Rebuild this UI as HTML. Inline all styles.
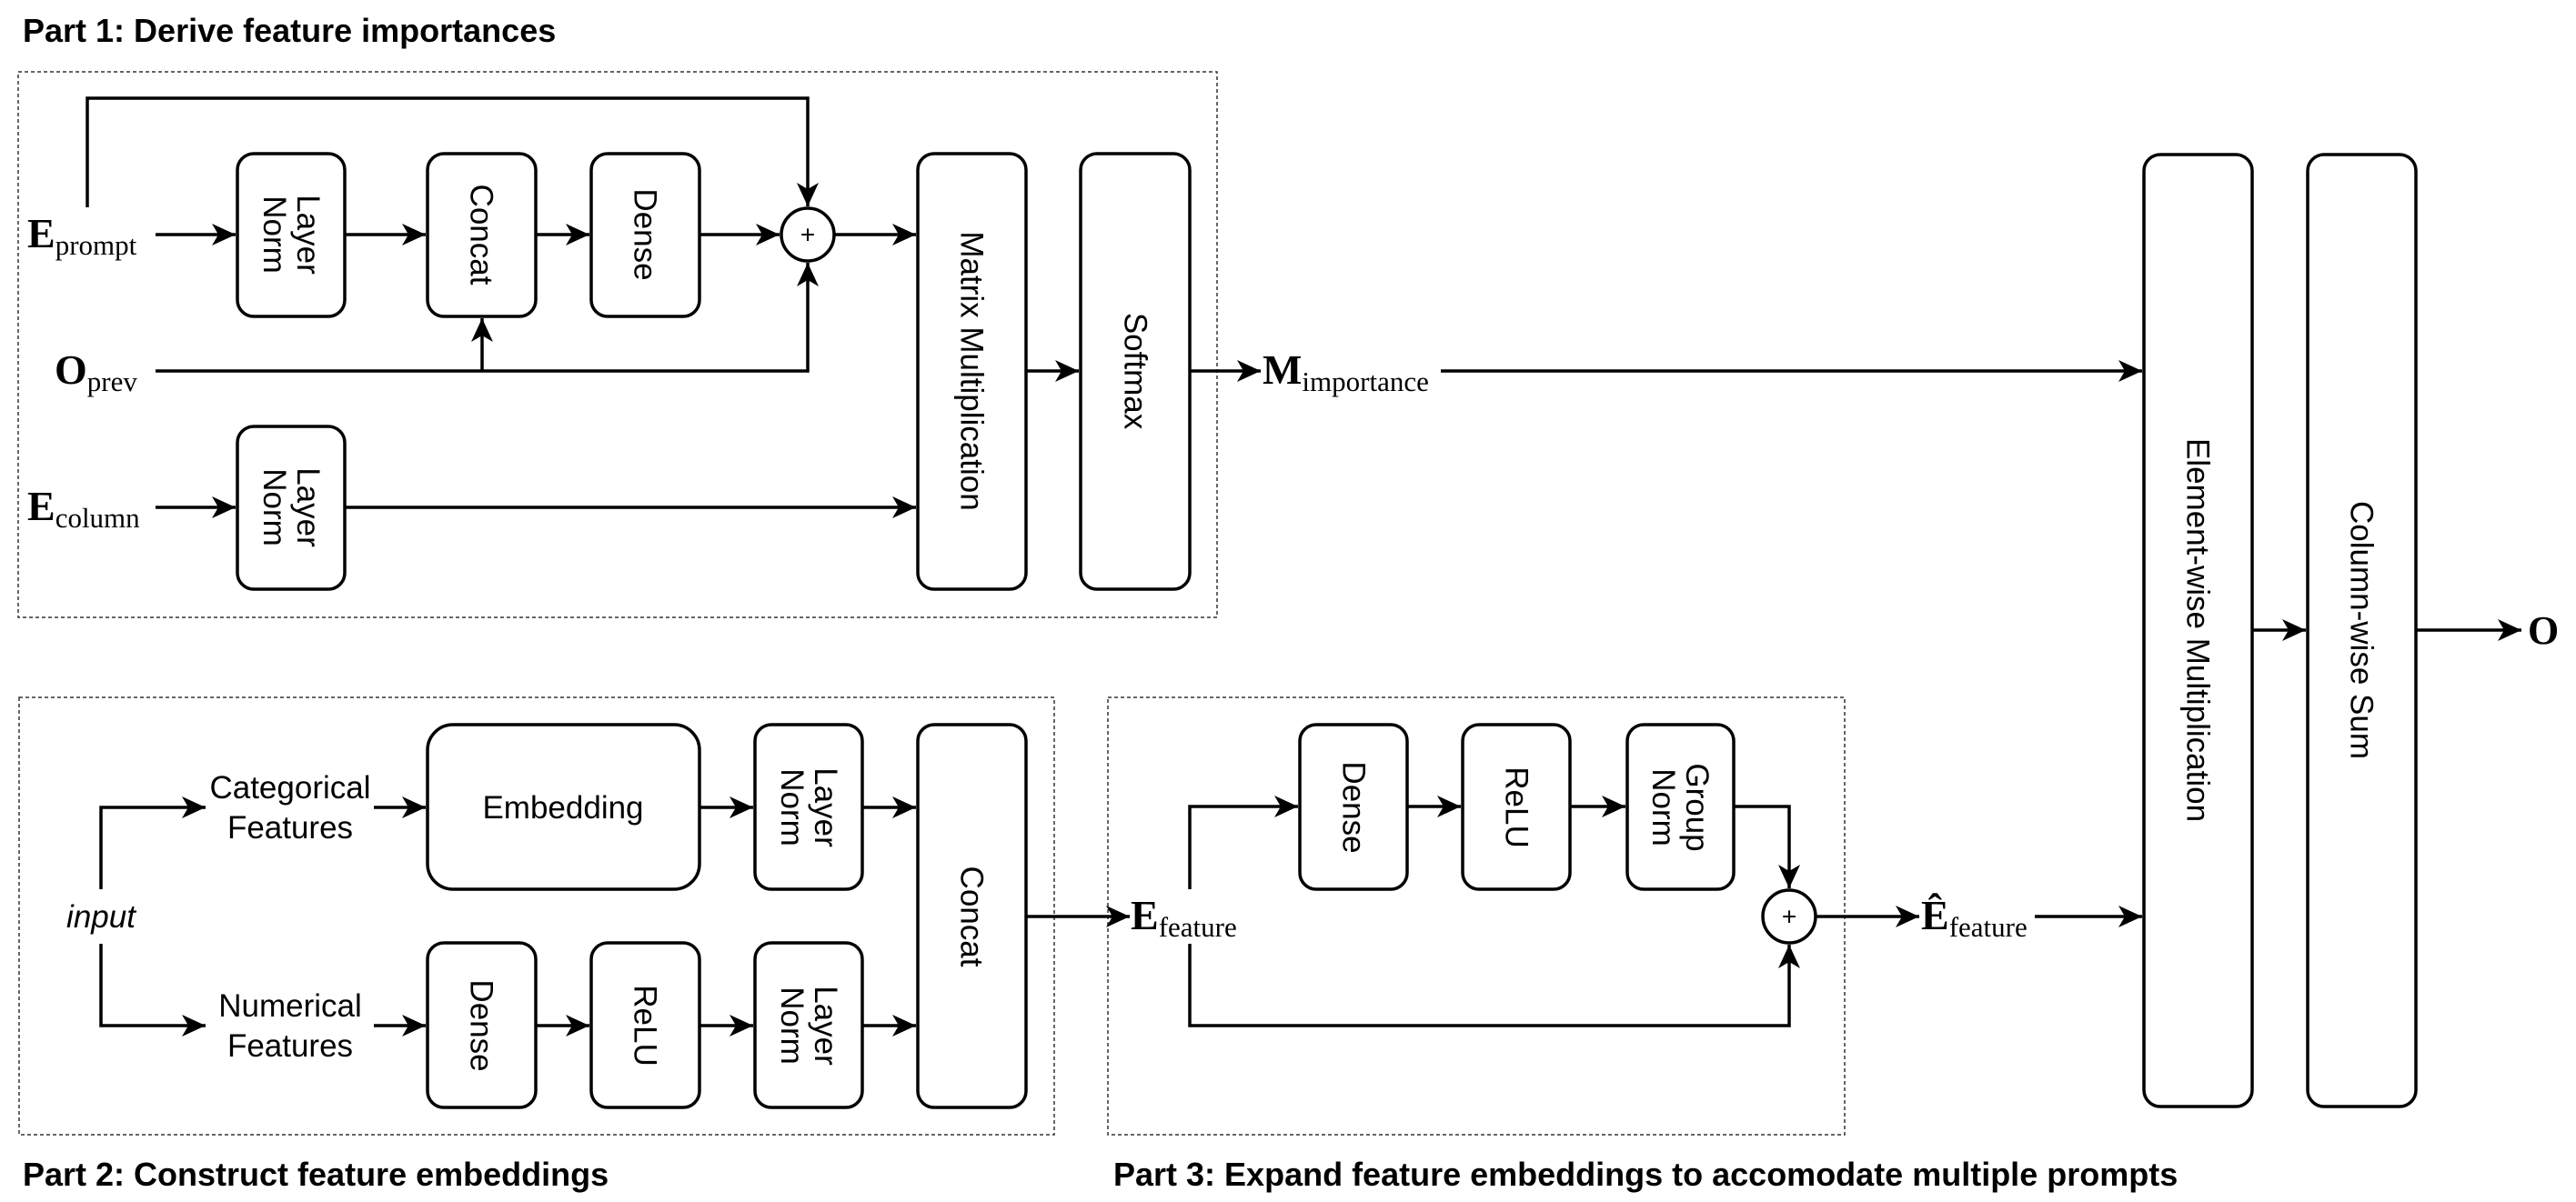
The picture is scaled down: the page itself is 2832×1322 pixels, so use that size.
<!DOCTYPE html>
<html><head><meta charset="utf-8"><style>
html,body{margin:0;padding:0;background:#fff}
svg{display:block}
.b{fill:#fff;stroke:#000;stroke-width:3.5}
.l{fill:none;stroke:#000;stroke-width:3.5}
.d{fill:none;stroke:#333;stroke-width:1.5;stroke-dasharray:4 3}
.t{font-family:"Liberation Sans",sans-serif;font-size:35px;fill:#000}
.h{font-family:"Liberation Sans",sans-serif;font-size:36px;font-weight:bold;fill:#000}
.m{font-family:"Liberation Serif",serif;fill:#000}
</style></head><body>
<svg width="2832" height="1322" viewBox="0 0 2832 1322" xmlns="http://www.w3.org/2000/svg">
<defs><marker id="a" markerUnits="userSpaceOnUse" markerWidth="28" markerHeight="26" refX="26" refY="12" orient="auto"><path d="M0,0 L26,12 L0,24 L7,12 Z" fill="#000"/></marker></defs>

<text class="h" x="25" y="46">Part 1: Derive feature importances</text>
<text class="h" x="25" y="1304">Part 2: Construct feature embeddings</text>
<text class="h" x="1224" y="1304">Part 3: Expand feature embeddings to accomodate multiple prompts</text>

<rect class="d" x="20" y="79" width="1318" height="600"/>
<rect class="d" x="21" y="767" width="1138" height="481"/>
<rect class="d" x="1218" y="767" width="810" height="481"/>

<!-- Part 1 boxes -->
<rect class="b" x="261" y="169" width="118" height="179" rx="18"/>
<rect class="b" x="470" y="169" width="119" height="179" rx="18"/>
<rect class="b" x="650" y="169" width="119" height="179" rx="18"/>
<rect class="b" x="261" y="469" width="118" height="179" rx="18"/>
<rect class="b" x="1009" y="169" width="119" height="479" rx="18"/>
<rect class="b" x="1188" y="169" width="120" height="479" rx="18"/>
<circle class="b" cx="888" cy="258" r="29"/>
<text class="t" x="888" y="258" text-anchor="middle" dominant-baseline="central" style="font-size:28px">+</text>

<text class="t" transform="translate(320,258) rotate(90)" text-anchor="middle"><tspan x="0" y="-7">Layer</tspan><tspan x="0" y="30">Norm</tspan></text>
<text class="t" transform="translate(320,558) rotate(90)" text-anchor="middle"><tspan x="0" y="-7">Layer</tspan><tspan x="0" y="30">Norm</tspan></text>
<text class="t" transform="translate(529,258) rotate(90)" text-anchor="middle" dominant-baseline="central">Concat</text>
<text class="t" transform="translate(709,258) rotate(90)" text-anchor="middle" dominant-baseline="central">Dense</text>
<text class="t" transform="translate(1068,408) rotate(90)" text-anchor="middle" dominant-baseline="central">Matrix Multiplication</text>
<text class="t" transform="translate(1248,408) rotate(90)" text-anchor="middle" dominant-baseline="central">Softmax</text>

<!-- Part 1 labels -->
<text class="m" x="30" y="272"><tspan font-size="46" font-weight="bold">E</tspan><tspan font-size="31" dy="8">prompt</tspan></text>
<text class="m" x="60" y="422"><tspan font-size="46" font-weight="bold">O</tspan><tspan font-size="31" dy="8">prev</tspan></text>
<text class="m" x="30" y="572"><tspan font-size="46" font-weight="bold">E</tspan><tspan font-size="31" dy="8">column</tspan></text>
<text class="m" x="1388" y="422"><tspan font-size="46" font-weight="bold">M</tspan><tspan font-size="31" dy="8">importance</tspan></text>

<!-- Part 1 connectors -->
<line class="l" x1="171" y1="258" x2="259" y2="258" marker-end="url(#a)"/>
<line class="l" x1="379" y1="258" x2="468" y2="258" marker-end="url(#a)"/>
<line class="l" x1="589" y1="258" x2="648" y2="258" marker-end="url(#a)"/>
<line class="l" x1="769" y1="258" x2="857" y2="258" marker-end="url(#a)"/>
<line class="l" x1="917" y1="258" x2="1007" y2="258" marker-end="url(#a)"/>
<polyline class="l" points="96,228 96,108 888,108 888,227" marker-end="url(#a)"/>
<polyline class="l" points="171,408 888,408 888,289" marker-end="url(#a)"/>
<line class="l" x1="530" y1="408" x2="530" y2="350" marker-end="url(#a)"/>
<line class="l" x1="171" y1="558" x2="259" y2="558" marker-end="url(#a)"/>
<line class="l" x1="379" y1="558" x2="1007" y2="558" marker-end="url(#a)"/>
<line class="l" x1="1128" y1="408" x2="1186" y2="408" marker-end="url(#a)"/>
<line class="l" x1="1308" y1="408" x2="1386" y2="408" marker-end="url(#a)"/>
<line class="l" x1="1584" y1="408" x2="2355" y2="408" marker-end="url(#a)"/>

<!-- Right boxes -->
<rect class="b" x="2357" y="170" width="119" height="1047" rx="18"/>
<rect class="b" x="2537" y="170" width="119" height="1047" rx="18"/>
<text class="t" transform="translate(2416,693) rotate(90)" text-anchor="middle" dominant-baseline="central">Element-wise Multiplication</text>
<text class="t" transform="translate(2596,693) rotate(90)" text-anchor="middle" dominant-baseline="central">Column-wise Sum</text>
<line class="l" x1="2476" y1="693" x2="2535" y2="693" marker-end="url(#a)"/>
<line class="l" x1="2656" y1="693" x2="2772" y2="693" marker-end="url(#a)"/>
<text class="m" x="2779" y="708" font-size="44" font-weight="bold">O</text>

<!-- Part 2 -->
<rect class="b" x="470" y="797" width="299" height="181" rx="28"/>
<rect class="b" x="830" y="797" width="118" height="181" rx="18"/>
<rect class="b" x="1009" y="797" width="119" height="421" rx="18"/>
<rect class="b" x="470" y="1037" width="119" height="181" rx="18"/>
<rect class="b" x="650" y="1037" width="119" height="181" rx="18"/>
<rect class="b" x="830" y="1037" width="118" height="181" rx="18"/>
<text class="t" x="619" y="900" text-anchor="middle">Embedding</text>
<text class="t" transform="translate(889,888) rotate(90)" text-anchor="middle"><tspan x="0" y="-7">Layer</tspan><tspan x="0" y="30">Norm</tspan></text>
<text class="t" transform="translate(889,1128) rotate(90)" text-anchor="middle"><tspan x="0" y="-7">Layer</tspan><tspan x="0" y="30">Norm</tspan></text>
<text class="t" transform="translate(1068,1008) rotate(90)" text-anchor="middle" dominant-baseline="central">Concat</text>
<text class="t" transform="translate(529,1128) rotate(90)" text-anchor="middle" dominant-baseline="central">Dense</text>
<text class="t" transform="translate(709,1128) rotate(90)" text-anchor="middle" dominant-baseline="central">ReLU</text>
<text class="t" x="319" y="878" text-anchor="middle">Categorical</text>
<text class="t" x="319" y="922" text-anchor="middle">Features</text>
<text class="t" x="319" y="1118" text-anchor="middle">Numerical</text>
<text class="t" x="319" y="1162" text-anchor="middle">Features</text>
<text class="t" x="111" y="1020" text-anchor="middle" font-style="italic">input</text>
<polyline class="l" points="111,978 111,888 226,888" marker-end="url(#a)"/>
<polyline class="l" points="111,1038 111,1128 226,1128" marker-end="url(#a)"/>
<line class="l" x1="411" y1="888" x2="468" y2="888" marker-end="url(#a)"/>
<line class="l" x1="769" y1="888" x2="828" y2="888" marker-end="url(#a)"/>
<line class="l" x1="948" y1="888" x2="1007" y2="888" marker-end="url(#a)"/>
<line class="l" x1="411" y1="1128" x2="468" y2="1128" marker-end="url(#a)"/>
<line class="l" x1="589" y1="1128" x2="648" y2="1128" marker-end="url(#a)"/>
<line class="l" x1="769" y1="1128" x2="828" y2="1128" marker-end="url(#a)"/>
<line class="l" x1="948" y1="1128" x2="1007" y2="1128" marker-end="url(#a)"/>
<line class="l" x1="1128" y1="1008" x2="1242" y2="1008" marker-end="url(#a)"/>

<!-- Part 3 -->
<text class="m" x="1243" y="1022"><tspan font-size="46" font-weight="bold">E</tspan><tspan font-size="31" dy="8">feature</tspan></text>
<rect class="b" x="1429" y="797" width="118" height="181" rx="18"/>
<rect class="b" x="1608" y="797" width="118" height="181" rx="18"/>
<rect class="b" x="1789" y="797" width="117" height="181" rx="18"/>
<text class="t" transform="translate(1488,888) rotate(90)" text-anchor="middle" dominant-baseline="central">Dense</text>
<text class="t" transform="translate(1667,888) rotate(90)" text-anchor="middle" dominant-baseline="central">ReLU</text>
<text class="t" transform="translate(1847,888) rotate(90)" text-anchor="middle"><tspan x="0" y="-7">Group</tspan><tspan x="0" y="30">Norm</tspan></text>
<circle class="b" cx="1967" cy="1008" r="29"/>
<text class="t" x="1967" y="1008" text-anchor="middle" dominant-baseline="central" style="font-size:28px">+</text>
<polyline class="l" points="1308,978 1308,887 1427,887" marker-end="url(#a)"/>
<line class="l" x1="1547" y1="887" x2="1606" y2="887" marker-end="url(#a)"/>
<line class="l" x1="1726" y1="887" x2="1787" y2="887" marker-end="url(#a)"/>
<polyline class="l" points="1906,887 1967,887 1967,977" marker-end="url(#a)"/>
<polyline class="l" points="1308,1038 1308,1128 1967,1128 1967,1039" marker-end="url(#a)"/>
<line class="l" x1="1996" y1="1008" x2="2110" y2="1008" marker-end="url(#a)"/>
<text class="m" x="2112" y="1022"><tspan font-size="46" font-weight="bold">Ê</tspan><tspan font-size="31" dy="8">feature</tspan></text>
<line class="l" x1="2237" y1="1008" x2="2355" y2="1008" marker-end="url(#a)"/>
</svg>
</body></html>
